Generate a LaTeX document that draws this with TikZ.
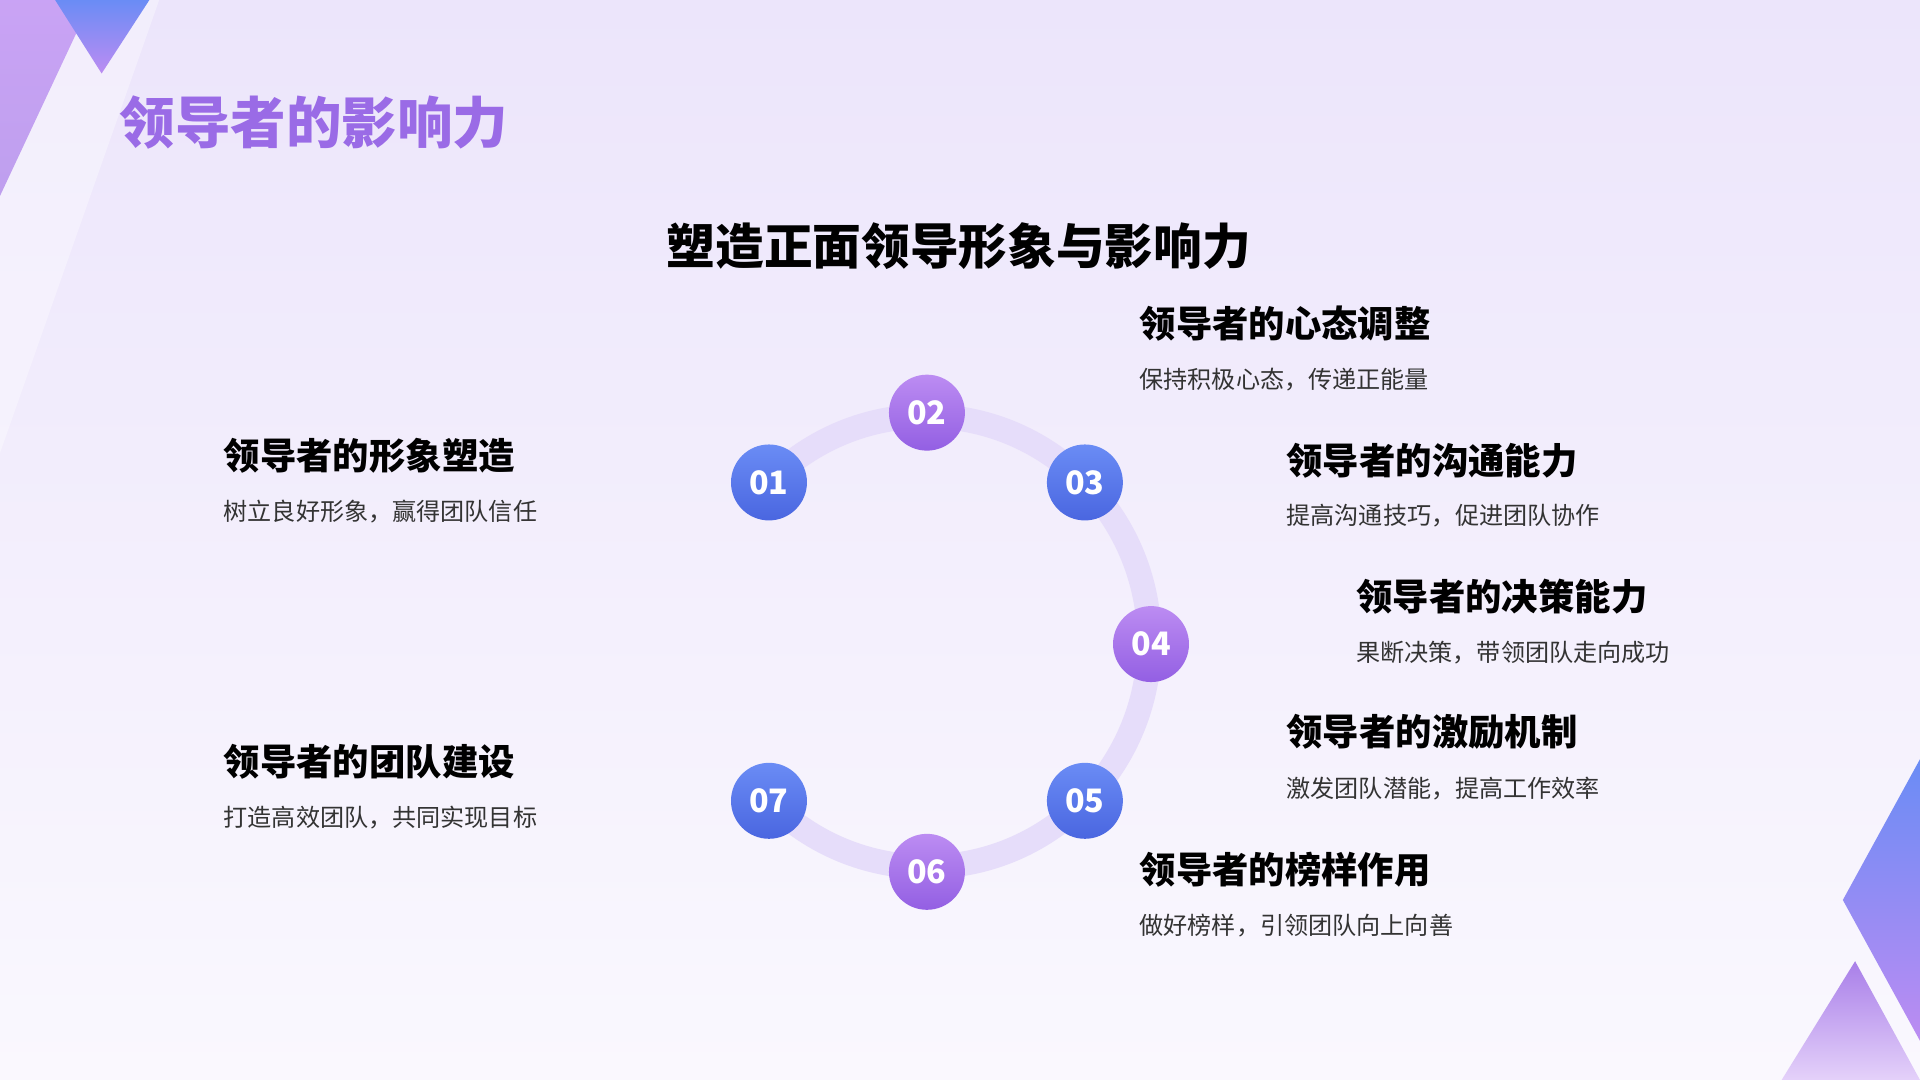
\documentclass[tikz,border=0pt]{standalone}
\usepackage{fontspec}
\setmainfont{Noto Sans CJK SC}
\usetikzlibrary{positioning}
\definecolor{bgtop}{HTML}{ECE5FB}
\definecolor{bgbot}{HTML}{FAF8FE}
\definecolor{ringc}{HTML}{E6DDFA}
\definecolor{bluea}{HTML}{6A8CF5}
\definecolor{blueb}{HTML}{4A66E0}
\definecolor{purpa}{HTML}{BC8CF2}
\definecolor{purpb}{HTML}{935FE3}
\definecolor{titlec}{HTML}{9A6BE6}
\definecolor{desc}{HTML}{333333}
\tikzset{
  numblue/.style={circle, minimum size=0.62cm, inner sep=0pt, top color=bluea, bottom color=blueb,
    text=white, font=\fontsize{7.5}{8}\selectfont\bfseries},
  numpurp/.style={numblue, top color=purpa, bottom color=purpb},
  headtext/.style={anchor=west, inner sep=0pt, font=\fontsize{8.45}{10}\selectfont\bfseries},
  desctext/.style={anchor=west, inner sep=0pt, text=desc, font=\fontsize{5.6}{7}\selectfont}
}
\begin{document}
\begin{tikzpicture}[x=0.01cm,y=-0.01cm]
  % background
  \shade[top color=bgtop, bottom color=bgbot] (0,0) rectangle (1568,882);
  \useasboundingbox (0,0) rectangle (1568,882);
  % corner shapes
  \fill[white, opacity=0.35] (0,160) -- (75,0) -- (130,0) -- (0,370) -- cycle;
  \shade[top color=purpa!80, bottom color=purpb!60] (0,0) -- (75,0) -- (0,160) -- cycle;
  \shade[top color=bluea, bottom color=purpa] (45,0) -- (122,0) -- (83,60) -- cycle;
  \shade[top color=bluea, bottom color=purpa] (1568,620) -- (1568,850) -- (1505,735) -- cycle;
  \shade[top color=purpb!80, bottom color=purpa!40] (1515,785) -- (1568,882) -- (1455,882) -- cycle;
  % titles
  \node[anchor=west, inner sep=0pt, text=titlec, font=\fontsize{12.9}{14}\selectfont\bfseries] (maintitle) at (97,100) {领导者的影响力};
  \node[inner sep=0pt, font=\fontsize{11.3}{13}\selectfont\bfseries] (subtitle) at (783,201) {塑造正面领导形象与影响力};
  % ring
  \draw[ringc, line width=0.2cm] (628,654) arc[start angle=135, end angle=-135, x radius=182, y radius=184];
  % numbers
  \node[numblue] (n01) at (628,394) {01};
  \node[numpurp] (n02) at (757,337) {02};
  \node[numblue] (n03) at (886,394) {03};
  \node[numpurp] (n04) at (940,526) {04};
  \node[numblue] (n05) at (886,654) {05};
  \node[numpurp] (n06) at (757,712) {06};
  \node[numblue] (n07) at (628,654) {07};
  % items
  \node[headtext] (h01) at (182,372) {领导者的形象塑造};
  \node[desctext] (d01) at (182,418) {树立良好形象，赢得团队信任};
  \node[headtext] (h02) at (930,264) {领导者的心态调整};
  \node[desctext] (d02) at (930,310) {保持积极心态，传递正能量};
  \node[headtext] (h03) at (1050,376) {领导者的沟通能力};
  \node[desctext] (d03) at (1050,421) {提高沟通技巧，促进团队协作};
  \node[headtext] (h04) at (1107,487) {领导者的决策能力};
  \node[desctext] (d04) at (1107,533) {果断决策，带领团队走向成功};
  \node[headtext] (h05) at (1050,598) {领导者的激励机制};
  \node[desctext] (d05) at (1050,644) {激发团队潜能，提高工作效率};
  \node[headtext] (h06) at (930,710) {领导者的榜样作用};
  \node[desctext] (d06) at (930,756) {做好榜样，引领团队向上向善};
  \node[headtext] (h07) at (182,622) {领导者的团队建设};
  \node[desctext] (d07) at (182,668) {打造高效团队，共同实现目标};
\end{tikzpicture}
\end{document}
